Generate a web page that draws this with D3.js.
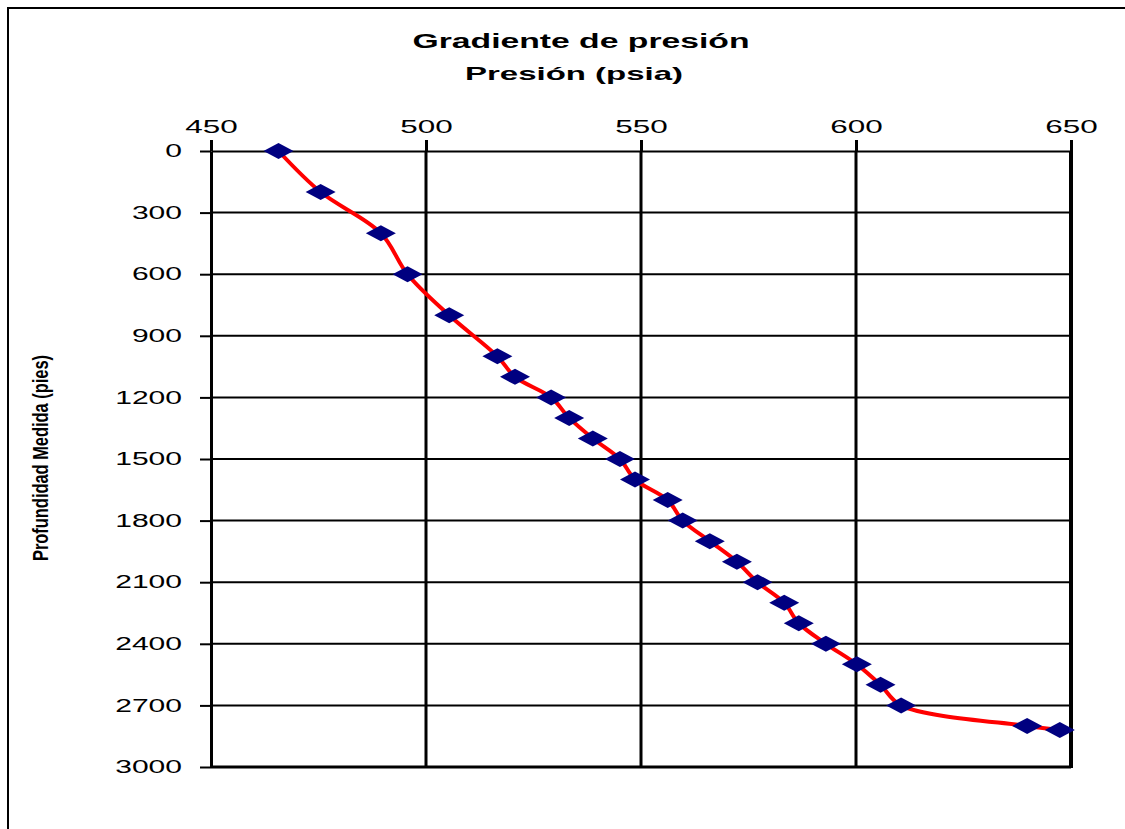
<!DOCTYPE html>
<html>
<head>
<meta charset="utf-8">
<script src="https://cdn.jsdelivr.net/npm/d3@7"></script>
<style>
  html, body { margin: 0; padding: 0; background: #fff; }
  svg { display: block; }
  text { font-family: "Liberation Sans", Arial, sans-serif; fill: #000; }
</style>
</head>
<body>
<svg id="chart" width="1125" height="829"></svg>
<script>
// Pressure survey: pressure (psia) versus measured depth (ft)
const pressure = [465.7, 475.5, 489.5, 495.7, 505.4, 516.6, 520.7, 529.1, 533.3, 538.8,
                  545.1, 548.6, 556.2, 559.7, 566.0, 572.3, 577.1, 583.3, 586.7, 593.0,
                  600.2, 605.7, 610.5, 639.8, 647.4];
const depth    = [0, 200, 400, 600, 800, 1000, 1100, 1200, 1300, 1400,
                  1500, 1600, 1700, 1800, 1900, 2000, 2100, 2200, 2300, 2400,
                  2500, 2600, 2700, 2800, 2820];
const pressureTicks = [450, 500, 550, 600, 650];
const depthTicks = [0, 300, 600, 900, 1200, 1500, 1800, 2100, 2400, 2700, 3000];

const title = "Gradiente de presión";
const xTitle = "Presión (psia)";
const yTitle = "Profundidad Medida (pies)";

const svg = d3.select("#chart");
const W = 1125, H = 829;
const plot = { left: 211, right: 1071, top: 151, bottom: 767 };

svg.append("rect").attr("width", W).attr("height", H).attr("fill", "#fff");

// outer chart frame
svg.append("rect")
  .attr("x", 8).attr("y", 8).attr("width", 1300).attr("height", 1000)
  .attr("fill", "none").attr("stroke", "#000").attr("stroke-width", 2);

const x = d3.scaleLinear().domain([450, 650]).range([plot.left, plot.right]);
const y = d3.scaleLinear().domain([0, 3000]).range([plot.top, plot.bottom]);

// horizontal gridlines
svg.append("g").selectAll("line")
  .data(depthTicks.slice(1))
  .join("line")
  .attr("x1", plot.left).attr("x2", plot.right)
  .attr("y1", d => y(d)).attr("y2", d => y(d))
  .attr("stroke", "#000").attr("stroke-width", 2);

// vertical gridlines
svg.append("g").selectAll("line")
  .data(pressureTicks.slice(1, -1))
  .join("line")
  .attr("x1", d => x(d)).attr("x2", d => x(d))
  .attr("y1", plot.top).attr("y2", plot.bottom)
  .attr("stroke", "#000").attr("stroke-width", 3);

// right edge of the plot area
svg.append("line")
  .attr("x1", x(650)).attr("x2", x(650))
  .attr("y1", plot.top).attr("y2", plot.bottom + 1)
  .attr("stroke", "#000").attr("stroke-width", 4);

// stretch a text element to a fixed width per character
function stretch(sel, perChar) {
  sel.each(function() {
    const t = d3.select(this);
    const s = t.text();
    t.attr("textLength", s.length * perChar).attr("lengthAdjust", "spacingAndGlyphs");
  });
}

// top pressure axis
const xAxis = svg.append("g")
  .attr("transform", `translate(0,${plot.top})`)
  .call(d3.axisTop(x).tickValues(pressureTicks).tickSize(11).tickSizeOuter(0).tickPadding(7).tickFormat(d3.format("d")));
xAxis.select(".domain").attr("stroke", "#000").attr("stroke-width", 2);
xAxis.selectAll(".tick line").attr("stroke", "#000").attr("stroke-width", 3)
  .attr("y2", 0).attr("y1", -11);
xAxis.selectAll(".tick text").attr("font-size", 18).attr("fill", "#000")
  .attr("font-family", "Liberation Sans, Arial, sans-serif")
  .call(stretch, 17.5);

// left depth axis
const yAxis = svg.append("g")
  .attr("transform", `translate(${plot.left},0)`)
  .call(d3.axisLeft(y).tickValues(depthTicks).tickSize(11).tickSizeOuter(0).tickPadding(18).tickFormat(d3.format("d")));
yAxis.select(".domain").attr("stroke", "#000").attr("stroke-width", 3);
yAxis.selectAll(".tick line").attr("stroke", "#000").attr("stroke-width", 2);
yAxis.selectAll(".tick text").attr("font-size", 18).attr("fill", "#000")
  .attr("font-family", "Liberation Sans, Arial, sans-serif")
  .call(stretch, 16.7);

// bottom edge
svg.append("line")
  .attr("x1", plot.left).attr("x2", plot.right)
  .attr("y1", plot.bottom).attr("y2", plot.bottom)
  .attr("stroke", "#000").attr("stroke-width", 3);

// pressure curve
const pts = pressure.map((p, i) => [p, depth[i]]);
const line = d3.line()
  .x(d => x(d[0])).y(d => y(d[1]))
  .curve(d3.curveCatmullRom.alpha(0.5));
svg.append("path")
  .datum(pts)
  .attr("d", line)
  .attr("fill", "none")
  .attr("stroke", "#ff0000")
  .attr("stroke-width", 4)
  .attr("stroke-linejoin", "round");

// diamond markers
svg.append("g").selectAll("path")
  .data(pts)
  .join("path")
  .attr("transform", d => `translate(${x(d[0])},${y(d[1])})`)
  .attr("d", "M0,-8L15,0L0,8L-15,0Z")
  .attr("fill", "#000080");

// titles
svg.append("text")
  .attr("x", 581).attr("y", 48)
  .attr("text-anchor", "middle")
  .attr("font-size", 20).attr("font-weight", "bold")
  .attr("textLength", 337).attr("lengthAdjust", "spacingAndGlyphs")
  .text(title);

svg.append("text")
  .attr("x", 574).attr("y", 80)
  .attr("text-anchor", "middle")
  .attr("font-size", 19).attr("font-weight", "bold")
  .attr("textLength", 218).attr("lengthAdjust", "spacingAndGlyphs")
  .text(xTitle);

svg.append("text")
  .attr("transform", "translate(48,458) rotate(-90)")
  .attr("text-anchor", "middle")
  .attr("font-size", 22).attr("font-weight", "bold")
  .attr("textLength", 206).attr("lengthAdjust", "spacingAndGlyphs")
  .text(yTitle);
</script>
</body>
</html>
